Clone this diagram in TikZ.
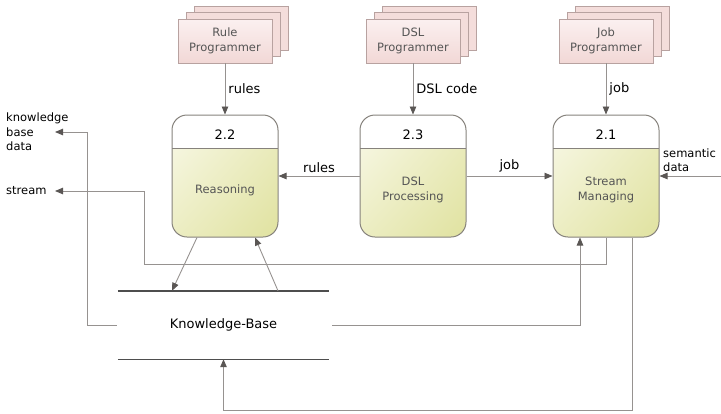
\documentclass[tikz,border=0pt]{standalone}
\usepackage{fontspec}
\setmainfont{DejaVu Sans}
\usepackage{tikz}
\usetikzlibrary{arrows.meta,calc,positioning,shadows,shadings}
\definecolor{procedge}{HTML}{86827C}
\definecolor{progedge}{HTML}{B8A2A0}
\definecolor{progtop}{HTML}{FBF0F0}
\definecolor{progbot}{HTML}{F2D8D6}
\definecolor{procA}{HTML}{F9F9EA}
\definecolor{procB}{HTML}{ECEDC2}
\definecolor{procC}{HTML}{E0E2A0}
\definecolor{linegray}{HTML}{969290}
\definecolor{tipgray}{HTML}{5A5654}
\definecolor{textgray}{HTML}{555555}
\definecolor{storegray}{HTML}{4E4E4E}
\newcommand{\dfdsmall}{\fontsize{11.5}{14.5}\selectfont}
\newcommand{\dfdlabel}{\fontsize{13}{15}\selectfont}
\tikzset{
  dfdProgrammer/.style={draw=progedge, line width=0.9pt, top color=progtop, bottom color=progbot, align=center, font=\dfdsmall, text=textgray, minimum width=94pt, minimum height=44pt, inner sep=2pt,
    copy shadow={shadow xshift=16pt, shadow yshift=13pt, draw=progedge, fill=progbot!80!progtop},
    copy shadow={shadow xshift=8pt, shadow yshift=6.5pt, draw=progedge, fill=progbot!80!progtop}},
  dfdProcess/.style={draw=procedge, line width=1pt, rounded corners=15pt, minimum width=106pt, minimum height=122pt,
    path picture={
      \shade[sharp corners, upper left=procA, upper right=procB, lower left=procB, lower right=procC]
        ([yshift=-33pt]path picture bounding box.north west) rectangle (path picture bounding box.south east);
      \draw[sharp corners, draw=procedge, line width=1pt]
        ([yshift=-33pt]path picture bounding box.north west) -- ([yshift=-33pt]path picture bounding box.north east);
    }},
  dfdNumber/.style={font=\dfdlabel, inner sep=0pt},
  dfdName/.style={font=\dfdsmall, text=textgray, align=center, inner sep=0pt},
  dfdFlow/.style={draw=linegray, line width=0.9pt, -{Triangle[length=8pt, width=6.5pt, color=tipgray]}},
  dfdFlowLabel/.style={font=\dfdlabel, inner sep=3pt},
  dfdSideLabel/.style={font=\dfdsmall, align=left, inner sep=2pt}
}

\begin{document}
\begin{tikzpicture}[
    x=1pt, y=-1pt,
    store/.style={minimum width=211pt, minimum height=68pt, font=\dfdlabel, inner sep=0pt},
    storeline/.style={draw=storegray, line width=1.4pt}
  ]
  \useasboundingbox (0,0) rectangle (721,413);

  % external entities
  \node[dfdProgrammer] (ruleprog) at (225,41) {Rule\\Programmer};
  \node[dfdProgrammer] (dslprog) at (413,41) {DSL\\Programmer};
  \node[dfdProgrammer] (jobprog) at (606,41) {Job\\Programmer};

  % processes
  \node[dfdProcess] (reason) at (225,176) {};
  \node[dfdProcess] (dslproc) at (413,176) {};
  \node[dfdProcess] (stream) at (606,176) {};
  \node[dfdNumber] (reasonnum) at ([yshift=-20pt]reason.north) {2.2};
  \node[dfdNumber] (dslprocnum) at ([yshift=-20pt]dslproc.north) {2.3};
  \node[dfdNumber] (streamnum) at ([yshift=-20pt]stream.north) {2.1};
  \node[dfdName] (reasonname) at ([yshift=-14pt]reason.center) {Reasoning};
  \node[dfdName] (dslprocname) at ([yshift=-14pt]dslproc.center) {DSL\\Processing};
  \node[dfdName] (streamname) at ([yshift=-14pt]stream.center) {Stream\\Managing};

  % data store
  \node[store] (kb) at (223.5,325) {Knowledge-Base};
  \draw[storeline] (kb.north west) -- (kb.north east);
  \draw[storeline] (kb.south west) -- (kb.south east);

  % outside labels
  \node[dfdSideLabel, anchor=west] (kbdlabel) at (4,132) {knowledge\\base\\data};
  \node[dfdSideLabel, anchor=west] (streamlabel) at (4,191) {stream};
  \node[dfdSideLabel, anchor=south west] (semlabel) at (661,174) {semantic\\data};
  \coordinate (kbdout) at (55,132);
  \coordinate (streamout) at (55,191);
  \coordinate (semin) at (721,176);

  % flows
  \draw[dfdFlow] (ruleprog) -- node[dfdFlowLabel, right] {rules} (reason);
  \draw[dfdFlow] (dslprog) -- node[dfdFlowLabel, right] {DSL code} (dslproc);
  \draw[dfdFlow] (jobprog) -- node[dfdFlowLabel, right] {job} (stream);
  \draw[dfdFlow] (dslproc) -- node[dfdFlowLabel, above] {rules} (reason);
  \draw[dfdFlow] (dslproc) -- node[dfdFlowLabel, above] {job} (stream);
  \draw[dfdFlow] (semin) -- (stream);
  \draw[dfdFlow] ([xshift=-28pt]reason.south) -- ([xshift=-51.5pt]kb.north);
  \draw[dfdFlow] ([xshift=54.5pt]kb.north) -- ([xshift=30pt]reason.south);
  \draw[dfdFlow] ([xshift=-1pt]kb.west) -- ++(-29,0) |- (kbdout);
  \draw[dfdFlow] ([xshift=3pt]kb.east) -| ([xshift=-26pt]stream.south);
  \draw[dfdFlow] (stream.south) -- ++(0,27) -| (144,191) -- (streamout);
  \draw[dfdFlow] ([xshift=26pt]stream.south) -- ++(0,173) -| (kb.south);
\end{tikzpicture}
\end{document}
